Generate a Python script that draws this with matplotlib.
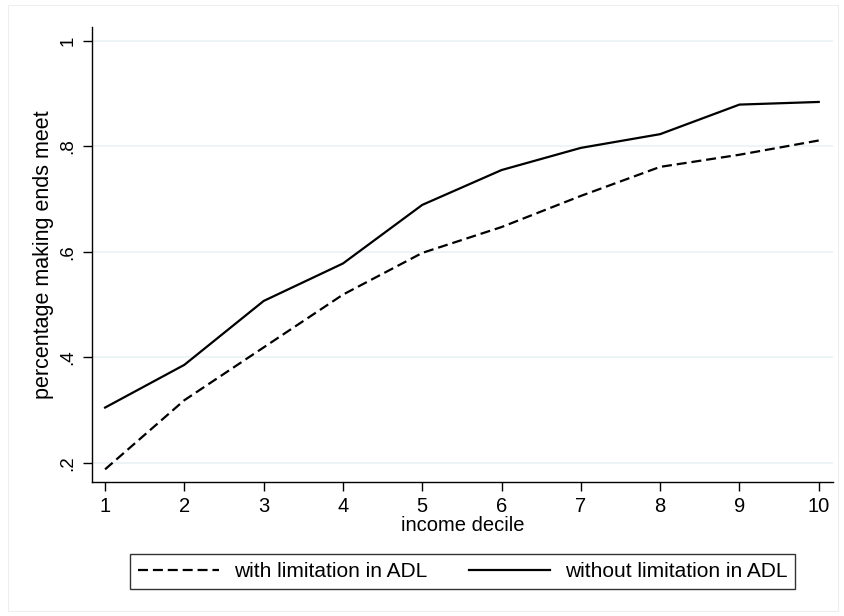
import numpy as np
import matplotlib.pyplot as plt
from matplotlib.patches import Rectangle

plt.rcParams['font.family'] = ['Liberation Sans', 'DejaVu Sans']

# data
deciles = [1, 2, 3, 4, 5, 6, 7, 8, 9, 10]
with_adl = [0.188, 0.319, 0.419, 0.519, 0.598, 0.647, 0.706, 0.761, 0.784, 0.811]
without_adl = [0.305, 0.386, 0.507, 0.578, 0.689, 0.755, 0.797, 0.823, 0.879, 0.884]
yticks = [0.2, 0.4, 0.6, 0.8, 1.0]
ytick_labels = ['.2', '.4', '.6', '.8', '1']

W, H = 844, 616
fig = plt.figure(figsize=(W / 100, H / 100), dpi=100)
fig.patches.append(Rectangle((8 / W, 5 / H), (W - 14) / W, (H - 10) / H,
                             transform=fig.transFigure, fill=False,
                             edgecolor='#EEEEEE', lw=0.8))

# axes box in pixels: left 92, right 833, top 27, bottom 482
ax = fig.add_axes([92 / W, 1 - 482 / H, (833 - 92) / W, (482 - 27) / H])
ax.set_xlim(0.835, 10.18)
ax.set_ylim(0.164, 1.026)

ax.plot(deciles, with_adl, color='black', lw=1.6, ls=(0, (4.5, 2.2)),
        label='with limitation in ADL')
ax.plot(deciles, without_adl, color='black', lw=1.6,
        label='without limitation in ADL')

for s in ['top', 'right']:
    ax.spines[s].set_visible(False)
for s in ['left', 'bottom']:
    ax.spines[s].set_linewidth(1.0)

ax.set_yticks(yticks)
ax.set_yticklabels(ytick_labels, rotation=90, va='center')
ax.set_xticks(deciles)
ax.tick_params(axis='both', direction='out', length=6.5, width=1.0, pad=4)
ax.tick_params(axis='x', labelsize=14.5)
ax.tick_params(axis='y', labelsize=13.5, pad=4.5)
ax.grid(axis='y', color='#EAF2F3', lw=1.2)
ax.set_axisbelow(True)

ax.set_xlabel('income decile', fontsize=14.5, labelpad=0)
ax.set_ylabel('percentage making ends meet', fontsize=15.5, labelpad=4)

leg = fig.legend(loc='center', bbox_to_anchor=(462.5 / W, 1 - 571.5 / H), ncol=2,
                 fontsize=15, frameon=True, fancybox=False, handlelength=3.9,
                 handletextpad=0.7, columnspacing=2.0, borderpad=0.4,
                 borderaxespad=0)
leg.get_frame().set_edgecolor('black')
leg.get_frame().set_linewidth(1.0)

fig.savefig('out.png', dpi=100)
